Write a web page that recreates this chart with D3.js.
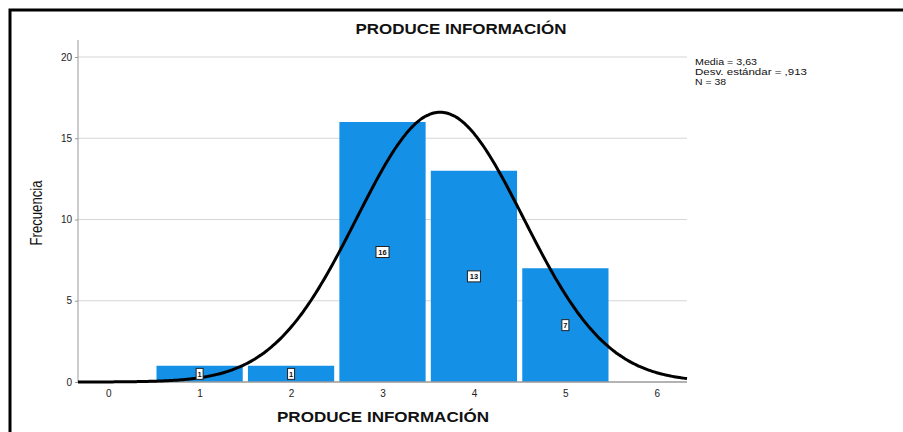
<!DOCTYPE html>
<html>
<head>
<meta charset="utf-8">
<script src="https://cdn.jsdelivr.net/npm/d3@7"></script>
<style>
  body { margin: 0; background: #fff; }
  svg { display: block; font-family: "Liberation Sans", Arial, sans-serif; }
</style>
</head>
<body>
<div id="graphic"></div>
<script>
// data
const categories = [1, 2, 3, 4, 5];
const frequencies = [1, 1, 16, 13, 7];
const xTicks = [0, 1, 2, 3, 4, 5, 6];
const yTicks = [0, 5, 10, 15, 20];
const statsLabels = ["Media = 3,63", "Desv. estándar = ,913", "N = 38"];
const statsWidths = [62, 112, 31];
const mean = 3.63;
const sd = 0.913;
const n = 38;

const title = "PRODUCE INFORMACIÓN";
const barColor = "#1490e6";

const width = 903, height = 432;
const plot = { left: 78, right: 687, top: 40, bottom: 382 };

const svg = d3.select("#graphic").append("svg")
  .attr("width", width)
  .attr("height", height);

// outer frame (only top and left edges are visible)
svg.append("path")
  .attr("d", `M10,${height + 5} L10,10 L${width + 5},10`)
  .attr("fill", "none")
  .attr("stroke", "#000")
  .attr("stroke-width", 3);

const x = d3.scaleLinear()
  .domain([-0.33, 6.33])
  .range([plot.left, plot.right]);

const y = d3.scaleLinear()
  .domain([0, 21])
  .range([plot.bottom, plot.bottom - 21 * (325 / 20)]);

// grid lines
svg.append("g")
  .selectAll("line")
  .data(yTicks.filter(d => d > 0))
  .enter().append("line")
    .attr("x1", plot.left)
    .attr("x2", plot.right)
    .attr("y1", d => y(d))
    .attr("y2", d => y(d))
    .attr("stroke", "#d6d6d6")
    .attr("stroke-width", 1.2);

// bars
const pad = 2.6;
svg.append("g")
  .selectAll("rect")
  .data(categories)
  .enter().append("rect")
    .attr("x", d => x(d - 0.5) + pad)
    .attr("width", d => x(d + 0.5) - x(d - 0.5) - 2 * pad)
    .attr("y", (d, i) => y(frequencies[i]))
    .attr("height", (d, i) => y(0) - y(frequencies[i]))
    .attr("fill", barColor);

// y axis
const yAxis = svg.append("g")
  .attr("transform", `translate(${plot.left},0)`)
  .call(d3.axisLeft(y).tickValues(yTicks).tickFormat(d3.format("d")).tickSize(3).tickPadding(3));
yAxis.select(".domain")
  .attr("d", `M0,${plot.top}V${plot.bottom}`)
  .attr("stroke", "#9a9a9a");
yAxis.selectAll(".tick line").attr("stroke", "#9a9a9a");
yAxis.selectAll("text").attr("font-size", 10).attr("fill", "#222").attr("font-family", "Liberation Sans, Arial");

// x axis
const xAxis = svg.append("g")
  .attr("transform", `translate(0,${plot.bottom})`)
  .call(d3.axisBottom(x).tickValues(xTicks).tickFormat(d3.format("d")).tickSize(0).tickPadding(8));
xAxis.select(".domain")
  .attr("d", `M${plot.left},0H${plot.right}`)
  .attr("stroke", "#9a9a9a")
  .attr("stroke-width", 1.5);
xAxis.selectAll("text").attr("font-size", 10).attr("fill", "#222").attr("font-family", "Liberation Sans, Arial");

// normal curve defined by the displayed statistics
const density = v => n * Math.exp(-0.5 * Math.pow((v - mean) / sd, 2)) / (sd * Math.sqrt(2 * Math.PI));
const curveX = d3.range(x.domain()[0], x.domain()[1] + 0.001, 0.02);
const line = d3.line()
  .x(d => x(d))
  .y(d => y(density(d)))
  .curve(d3.curveBasis);

svg.append("path")
  .datum(curveX)
  .attr("d", line)
  .attr("fill", "none")
  .attr("stroke", "#000")
  .attr("stroke-width", 3);

// value labels
const labels = svg.append("g")
  .selectAll("g")
  .data(categories)
  .enter().append("g")
    .attr("transform", (d, i) => `translate(${x(d)},${y(frequencies[i] / 2)})`);

labels.append("rect")
  .attr("x", (d, i) => String(frequencies[i]).length > 1 ? -6.5 : -3.5)
  .attr("y", -5.5)
  .attr("width", (d, i) => String(frequencies[i]).length > 1 ? 13 : 7)
  .attr("height", 11)
  .attr("fill", "#fff")
  .attr("stroke", "#222")
  .attr("stroke-width", 1);

labels.append("text")
  .attr("text-anchor", "middle")
  .attr("dy", "0.35em")
  .attr("font-size", 7.5)
  .attr("font-weight", "bold")
  .attr("fill", "#111")
  .text((d, i) => frequencies[i]);

// title
svg.append("text")
  .attr("x", 461)
  .attr("y", 34)
  .attr("text-anchor", "middle")
  .attr("font-size", 14.5)
  .attr("font-weight", "bold")
  .attr("textLength", 211)
  .attr("lengthAdjust", "spacingAndGlyphs")
  .attr("fill", "#111")
  .text(title);

// x axis title
svg.append("text")
  .attr("x", 383)
  .attr("y", 422)
  .attr("text-anchor", "middle")
  .attr("font-size", 15)
  .attr("font-weight", "bold")
  .attr("textLength", 212)
  .attr("lengthAdjust", "spacingAndGlyphs")
  .attr("fill", "#111")
  .text(title);

// y axis title
svg.append("text")
  .attr("transform", `translate(42,213) rotate(-90)`)
  .attr("text-anchor", "middle")
  .attr("font-size", 16.5)
  .attr("textLength", 65)
  .attr("lengthAdjust", "spacingAndGlyphs")
  .attr("fill", "#111")
  .text("Frecuencia");

// statistics box
svg.append("g")
  .selectAll("text")
  .data(statsLabels)
  .enter().append("text")
    .attr("x", 695)
    .attr("y", (d, i) => 65 + i * 10.2)
    .attr("font-size", 8.8)
    .attr("textLength", (d, i) => statsWidths[i])
    .attr("lengthAdjust", "spacingAndGlyphs")
    .attr("fill", "#111")
    .text(d => d);
</script>
</body>
</html>
